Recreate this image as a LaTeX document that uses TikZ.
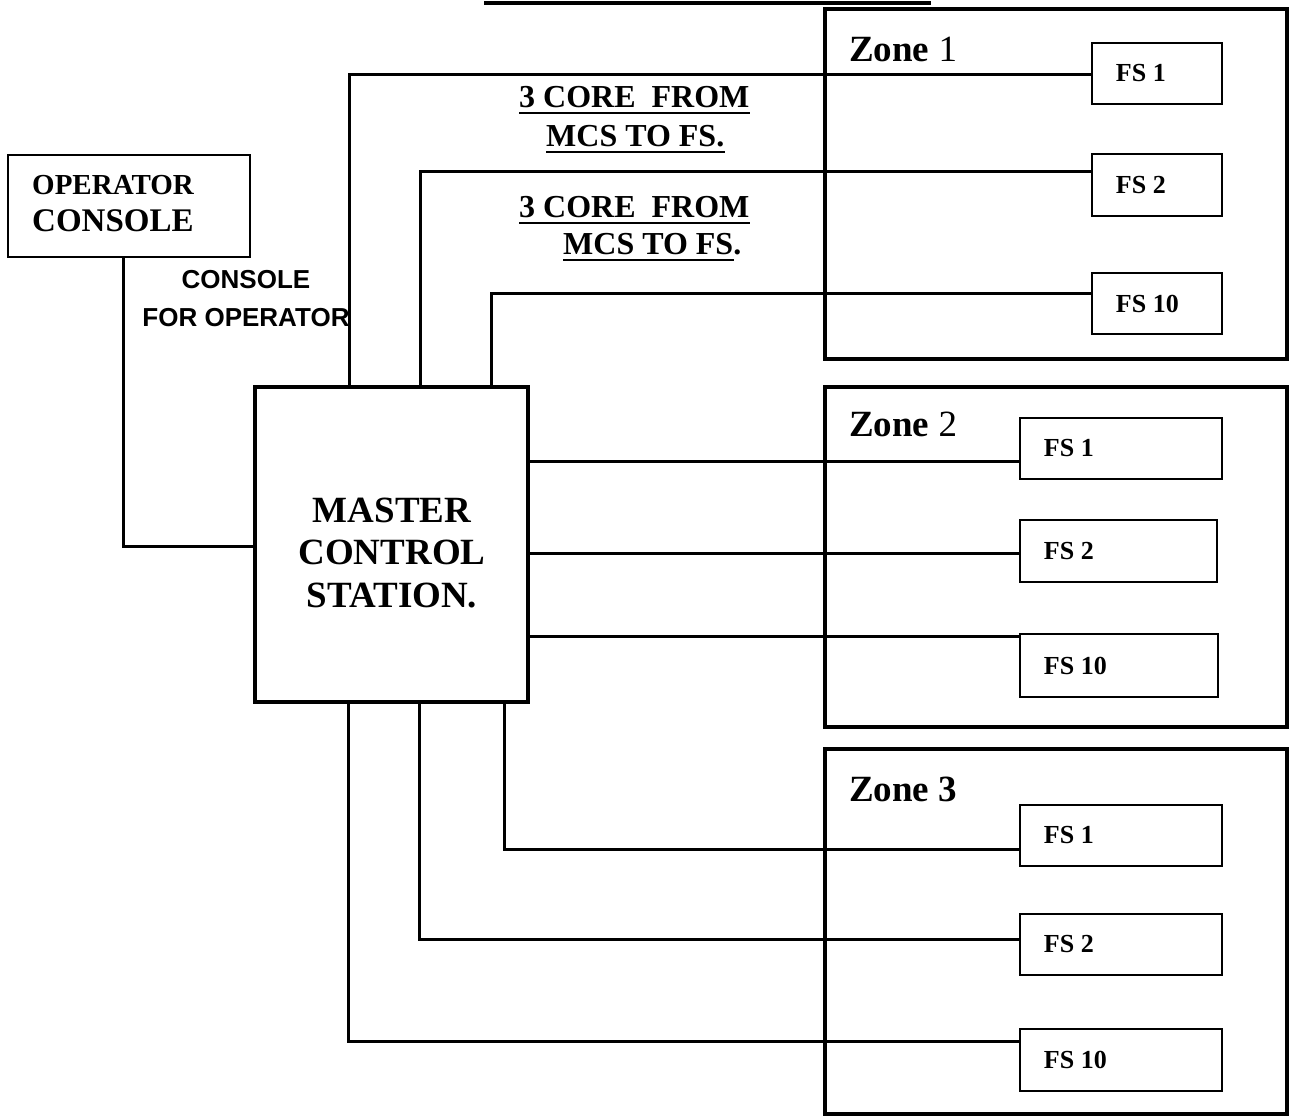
\documentclass[tikz,border=0pt]{standalone}
\usepackage{fontspec}
\setmainfont{Liberation Serif}
\newfontfamily\arialf{Liberation Sans}
\begin{document}
\begin{tikzpicture}[x=1pt,y=-1pt,
  zonebox/.style={draw, line width=4pt, rectangle, inner sep=0pt},
  mcsbox/.style={draw, line width=4pt, rectangle, inner sep=0pt},
  fsbox/.style={draw, line width=2.5pt, rectangle, inner sep=0pt},
  opbox/.style={draw, line width=2.5pt, rectangle, inner sep=0pt},
  conn/.style={line width=3pt},
  ulin/.style={line width=2.8pt},
  fstext/.style={inner sep=0pt, anchor=west, font=\fontsize{26}{30}\selectfont\bfseries},
  zonetext/.style={inner sep=0pt, anchor=base west, font=\fontsize{37}{42}\selectfont},
  coretext/.style={inner sep=0pt, anchor=base west, font=\fontsize{32}{36}\selectfont\bfseries},
]
\useasboundingbox (0,0) rectangle (1291,1117);

% stray top bar
\coordinate (s1) at (484,2.5);
\coordinate (s2) at (931,2.5);
\draw[line width=4pt] (s1) -- (s2);

% zones
\node[zonebox, minimum width=462pt, minimum height=350pt] (z1) at (1056,184) {};
\node[zonebox, minimum width=462pt, minimum height=340pt] (z2) at (1056,557) {};
\node[zonebox, minimum width=462pt, minimum height=365pt] (z3) at (1056,931.5) {};
\node[zonetext] (z1t) at (849,61) {\textbf{Zone} 1};
\node[zonetext] (z2t) at (849,436) {\textbf{Zone} 2};
\node[zonetext] (z3t) at (849,801) {\textbf{Zone 3}};

% FS boxes
\node[fsbox, minimum width=130pt, minimum height=61pt] (z1fs1) at (1157,73.5) {};
\node[fsbox, minimum width=130pt, minimum height=62pt] (z1fs2) at (1157,185) {};
\node[fsbox, minimum width=130pt, minimum height=61pt] (z1fs10) at (1157,303.5) {};
\node[fsbox, minimum width=202pt, minimum height=61pt] (z2fs1) at (1121,448.5) {};
\node[fsbox, minimum width=197pt, minimum height=62pt] (z2fs2) at (1118.5,551) {};
\node[fsbox, minimum width=198pt, minimum height=63pt] (z2fs10) at (1119,665.5) {};
\node[fsbox, minimum width=202pt, minimum height=61pt] (z3fs1) at (1121,835.5) {};
\node[fsbox, minimum width=202pt, minimum height=61pt] (z3fs2) at (1121,944.5) {};
\node[fsbox, minimum width=202pt, minimum height=62pt] (z3fs10) at (1121,1060) {};

\node[fstext] (z1fs1t) at ([xshift=25pt]z1fs1.west) {FS 1};
\node[fstext] (z1fs2t) at ([xshift=25pt]z1fs2.west) {FS 2};
\node[fstext] (z1fs10t) at ([xshift=25pt]z1fs10.west) {FS 10};
\node[fstext] (z2fs1t) at ([xshift=25pt]z2fs1.west) {FS 1};
\node[fstext] (z2fs2t) at ([xshift=25pt]z2fs2.west) {FS 2};
\node[fstext] (z2fs10t) at ([xshift=25pt]z2fs10.west) {FS 10};
\node[fstext] (z3fs1t) at ([xshift=25pt]z3fs1.west) {FS 1};
\node[fstext] (z3fs2t) at ([xshift=25pt]z3fs2.west) {FS 2};
\node[fstext] (z3fs10t) at ([xshift=25pt]z3fs10.west) {FS 10};

% master control station
\node[mcsbox, minimum width=273pt, minimum height=315pt] (mcs) at (391.5,544.5) {};
\node[inner sep=0pt, align=center, font=\fontsize{37}{42.5}\selectfont\bfseries] (mcst) at (392,553) {MASTER\\CONTROL\\STATION.};

% operator console
\node[opbox, minimum width=242pt, minimum height=102pt] (opc) at (129,206) {};
\node[inner sep=0pt, anchor=base west, font=\fontsize{29}{32}\selectfont\bfseries] (opt1) at (32,194) {OPERATOR};
\node[inner sep=0pt, anchor=base west, font=\fontsize{33}{36}\selectfont\bfseries] (opt2) at (32,231) {CONSOLE};
\node[inner sep=0pt, align=center, font=\arialf\bfseries\fontsize{26}{38}\selectfont] (cfo) at (246,299) {CONSOLE\\FOR OPERATOR};

% cable labels
\node[coretext] (l1a) at (519,107) {3 CORE\ \ FROM};
\node[coretext] (l1b) at (546,146) {MCS TO FS.};
\node[coretext] (l2a) at (519,217) {3 CORE\ \ FROM};
\node[coretext] (l2b) at (563,254) {MCS TO FS\rlap{.}};
\draw[ulin] ([yshift=-6pt]l1a.base west) -- ([yshift=-6pt]l1a.base east);
\draw[ulin] ([yshift=-6pt]l1b.base west) -- ([yshift=-6pt]l1b.base east);
\draw[ulin] ([yshift=-6pt]l2a.base west) -- ([yshift=-6pt]l2a.base east);
\draw[ulin] ([yshift=-6pt]l2b.base west) -- ([yshift=-6pt]l2b.base east);

% connector tap points
\coordinate (a1) at (349,74);
\coordinate (a2) at (420,171);
\coordinate (a3) at (491,293);
\coordinate (b1) at (528,461);
\coordinate (b2) at (528,553);
\coordinate (b3) at (528,636);
\coordinate (c1) at (504,849);
\coordinate (c2) at (419,939);
\coordinate (c3) at (348,1041);
\coordinate (d) at (123,546);

% zone 1
\draw[conn] (mcs.north -| a1) |- (z1fs1.west |- a1);
\draw[conn] (mcs.north -| a2) |- (z1fs2.west |- a2);
\draw[conn] (mcs.north -| a3) |- (z1fs10.west |- a3);
% zone 2
\draw[conn] (mcs.east |- b1) -- (z2fs1.west |- b1);
\draw[conn] (mcs.east |- b2) -- (z2fs2.west |- b2);
\draw[conn] (mcs.east |- b3) -- (z2fs10.west |- b3);
% zone 3
\draw[conn] (mcs.south -| c1) |- (z3fs1.west |- c1);
\draw[conn] (mcs.south -| c2) |- (z3fs2.west |- c2);
\draw[conn] (mcs.south -| c3) |- (z3fs10.west |- c3);
% operator console
\draw[conn] (opc.south -| d) |- (mcs.west |- d);
\end{tikzpicture}
\end{document}
